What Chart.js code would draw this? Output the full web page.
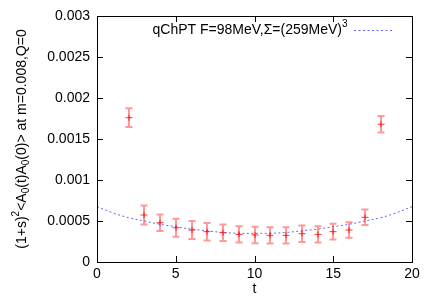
<!DOCTYPE html>
<html>
<head>
<meta charset="utf-8">
<script src="https://cdn.jsdelivr.net/npm/chart.js@4"></script>
<style>
	html, body { margin: 0; padding: 0; background: #fff; }
	#wrap { width: 436px; height: 305px; }
</style>
</head>
<body>
<div id="wrap"><canvas id="c" width="436" height="305"></canvas></div>
<script>
// 데이터
const tValues = [2, 3, 4, 5, 6, 7, 8, 9, 10, 11, 12, 13, 14, 15, 16, 17, 18];
const corrValues = [0.00176, 0.000573, 0.000479, 0.000418, 0.00039, 0.00037, 0.000357, 0.000337, 0.00033,
	0.000325, 0.000325, 0.000345, 0.000337, 0.00037, 0.00039, 0.000545, 0.00168];
const corrErrors = [0.000115, 0.000115, 0.0001, 0.00011, 0.00011, 0.000107, 0.0001, 0.0001, 0.0001,
	0.0001, 0.0001, 0.0001, 0.0001, 0.000095, 0.000095, 0.000095, 0.0001];
const fitT = [0, 1, 2, 3, 4, 5, 6, 7, 8, 9, 10, 11, 12, 13, 14, 15, 16, 17, 18, 19, 20];
const fitValues = [0.000675, 0.0006, 0.00054, 0.0005, 0.00046, 0.00043, 0.0004, 0.00038, 0.00036, 0.00035, 0.00035,
	0.00035, 0.00036, 0.00038, 0.0004, 0.00043, 0.00046, 0.0005, 0.00054, 0.0006, 0.000675];
const xTicks = [0, 5, 10, 15, 20];
const yTicks = [0, 0.0005, 0.001, 0.0015, 0.002, 0.0025, 0.003];
const yTickLabels = ["0", "0.0005", "0.001", "0.0015", "0.002", "0.0025", "0.003"];

const FONT = "Liberation Sans, Arial, Helvetica, sans-serif";
const FIT_COLOR = "rgba(60,60,255,0.8)";

// 에러바, 눈금, 범례, 축 제목 그리기
const gnuplotLook = {
	id: "gnuplotLook",
	afterDatasetsDraw(chart) {
		const ctx = chart.ctx;
		const xs = chart.scales.x, ys = chart.scales.y;
		const a = chart.chartArea;

		// 에러바
		ctx.save();
		ctx.strokeStyle = "rgba(255,0,0,0.4)";
		ctx.lineWidth = 2;
		for (let i = 0; i < tValues.length; i++) {
			const px = Math.round(xs.getPixelForValue(tValues[i]));
			const top = ys.getPixelForValue(corrValues[i] + corrErrors[i]);
			const bot = ys.getPixelForValue(corrValues[i] - corrErrors[i]);
			ctx.beginPath();
			ctx.moveTo(px, top); ctx.lineTo(px, bot);
			ctx.moveTo(px - 3.5, top); ctx.lineTo(px + 3.5, top);
			ctx.moveTo(px - 3.5, bot); ctx.lineTo(px + 3.5, bot);
			ctx.stroke();
		}
		ctx.strokeStyle = "rgba(255,0,0,0.8)";
		ctx.lineWidth = 1;
		for (let i = 0; i < tValues.length; i++) {
			const px = Math.round(xs.getPixelForValue(tValues[i]));
			const py = ys.getPixelForValue(corrValues[i]);
			ctx.beginPath();
			ctx.moveTo(px - 3.5, py); ctx.lineTo(px + 3.5, py);
			ctx.moveTo(px, py - 3); ctx.lineTo(px, py + 3);
			ctx.stroke();
		}
		ctx.restore();

		// 테두리와 안쪽 눈금
		ctx.save();
		ctx.strokeStyle = "#000";
		ctx.lineWidth = 1;
		ctx.strokeRect(Math.round(a.left) + 0.5, Math.round(a.top) + 0.5,
			Math.round(a.right - a.left), Math.round(a.bottom - a.top));
		ctx.beginPath();
		xTicks.forEach(v => {
			const px = Math.round(xs.getPixelForValue(v)) + 0.5;
			ctx.moveTo(px, a.bottom); ctx.lineTo(px, a.bottom - 6);
			ctx.moveTo(px, a.top); ctx.lineTo(px, a.top + 6);
		});
		yTicks.forEach(v => {
			const py = Math.round(ys.getPixelForValue(v)) + 0.5;
			ctx.moveTo(a.left, py); ctx.lineTo(a.left + 6, py);
			ctx.moveTo(a.right, py); ctx.lineTo(a.right - 6, py);
		});
		ctx.stroke();

		// 눈금 라벨
		ctx.fillStyle = "#000";
		ctx.font = "14px " + FONT;
		ctx.textAlign = "center";
		ctx.textBaseline = "middle";
		xTicks.forEach(v => ctx.fillText(String(v), xs.getPixelForValue(v), a.bottom + 12));
		ctx.textAlign = "right";
		yTicks.forEach((v, i) => ctx.fillText(yTickLabels[i], a.left - 7, ys.getPixelForValue(v)));

		// x축 제목
		ctx.textAlign = "center";
		ctx.fillText("t", (a.left + a.right) / 2, 289);

		// 범례
		const legY = 30;
		ctx.textAlign = "right";
		ctx.font = "10px " + FONT;
		const supW = ctx.measureText("3").width;
		ctx.fillText("3", 342 + supW, legY - 6);
		ctx.font = "14px " + FONT;
		ctx.fillText("qChPT F=98MeV,\u03A3=(259MeV)", 342, legY);
		ctx.strokeStyle = FIT_COLOR;
		ctx.setLineDash([2, 2.5]);
		ctx.beginPath();
		ctx.moveTo(354, legY + 0.5); ctx.lineTo(392, legY + 0.5);
		ctx.stroke();
		ctx.setLineDash([]);

		// y축 제목 (위첨자, 아래첨자 포함)
		ctx.translate(22, (a.top + a.bottom) / 2);
		ctx.rotate(-Math.PI / 2);
		const parts = [
			["(1+s)", 0, 14], ["2", -6, 10], ["<A", 0, 14], ["0", 4, 10], ["(t)A", 0, 14],
			["0", 4, 10], ["(0)> at m=0.008,Q=0", 0, 14]
		];
		let total = 0;
		parts.forEach(p => { ctx.font = p[2] + "px " + FONT; total += ctx.measureText(p[0]).width; });
		let x = -total / 2;
		ctx.textAlign = "left";
		parts.forEach(p => {
			ctx.font = p[2] + "px " + FONT;
			ctx.fillText(p[0], x, p[1]);
			x += ctx.measureText(p[0]).width;
		});
		ctx.restore();
	}
};

const ctx = document.getElementById("c").getContext("2d");
const chart = new Chart(ctx, {
	type: "scatter",
	data: {
		datasets: [{
			label: "fit",
			data: fitT.map((t, i) => ({ x: t, y: fitValues[i] })),
			showLine: true,
			tension: 0.4,
			borderColor: FIT_COLOR,
			borderWidth: 1,
			borderDash: [2, 2.5],
			pointRadius: 0
		}]
	},
	plugins: [gnuplotLook],
	options: {
		responsive: false,
		animation: false,
		layout: { padding: { top: 16, right: 24, left: 0, bottom: 0 } },
		plugins: { legend: { display: false }, tooltip: { enabled: false } },
		scales: {
			x: {
				type: "linear", min: 0, max: 20,
				grid: { display: false },
				border: { display: false },
				ticks: { display: false },
				afterFit: (s) => { s.height = 43; }
			},
			y: {
				type: "linear", min: 0, max: 0.003,
				grid: { display: false },
				border: { display: false },
				ticks: { display: false },
				afterFit: (s) => { s.width = 97; }
			}
		}
	}
});
</script>
</body>
</html>
